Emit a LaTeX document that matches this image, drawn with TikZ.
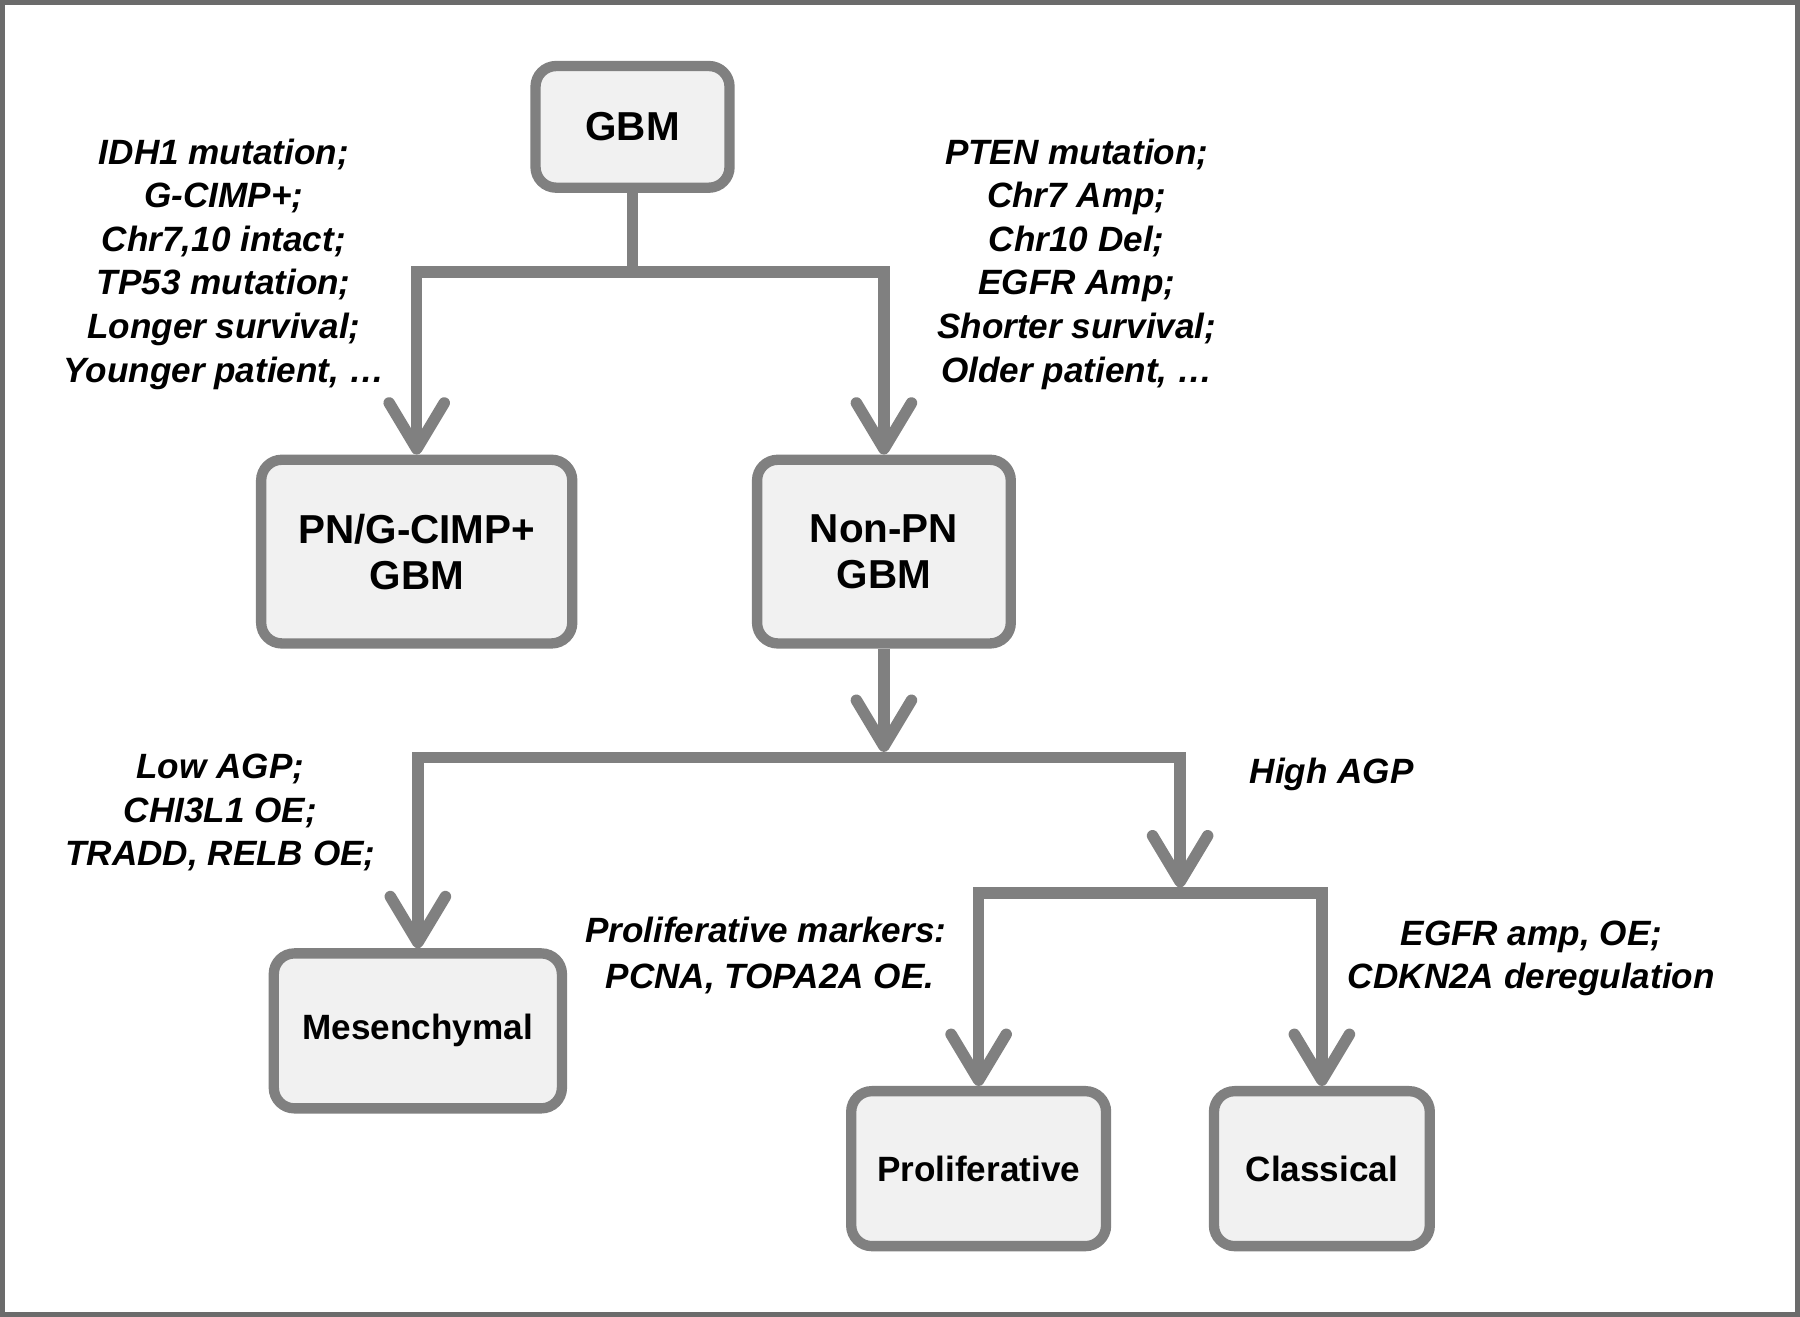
\documentclass[tikz,border=0pt]{standalone}
\usepackage{fontspec}
\setmainfont{Liberation Sans}
\usetikzlibrary{arrows.meta}
\definecolor{lc}{HTML}{808080}
\definecolor{bf}{HTML}{F1F1F1}
\definecolor{fr}{HTML}{6B6B6B}
\begin{document}
\begin{tikzpicture}[x=0.5pt,y=-0.5pt,
 box/.style={draw=lc, fill=bf, line width=4.5pt, rounded corners=9pt, inner sep=0pt, align=center, font=\bfseries\fontsize{17.6}{20}\selectfont},
 sbox/.style={box, font=\bfseries\fontsize{15.3}{18}\selectfont},
 conn/.style={draw=lc, line width=5pt, line join=miter},
 arr/.style={conn, -{Straight Barb[length=20pt,width=24pt,round]}},
 lab/.style={align=center, font=\bfseries\itshape\fontsize{15.3}{19}\selectfont, inner sep=0pt}]
\useasboundingbox (0,0) rectangle (1568,1147);
\draw[fr, line width=2pt] (2,2) rectangle (1566,1145);

\node[box, minimum width=84.5pt, minimum height=53pt] (gbm) at (551,110.5) {GBM};
\node[box, minimum width=135.5pt, minimum height=80pt] (pn) at (363,480.5) {PN/G-CIMP+\\GBM};
\node[box, minimum width=110.5pt, minimum height=80pt] (npn) at (770,480.5) {Non-PN\\GBM};
\node[sbox, minimum width=125.5pt, minimum height=67.5pt] (mes) at (364,898) {Mesenchymal};
\node[sbox, minimum width=111pt, minimum height=67.5pt] (pro) at (852.5,1018) {Proliferative};
\node[sbox, minimum width=94pt, minimum height=67.5pt] (cla) at (1151.5,1018) {Classical};

\coordinate (j1) at (551,237);
\coordinate (j2) at (770,660);
\coordinate (j3) at (1028,778);

\draw[conn] (gbm.south) -- (j1);
\draw[arr] (j1) -| (pn.north);
\draw[arr] (j1) -| (npn.north);
\draw[arr] (npn.south) -- ([yshift=2.5pt]j2);
\draw[arr] (j2) -| (mes.north);
\draw[arr] (j2) -| ([yshift=2.5pt]j3);
\draw[arr] (j3) -| (pro.north);
\draw[arr] (j3) -| (cla.north);

\node[lab] (tl) at (195,230) {IDH1 mutation;\\G-CIMP+;\\Chr7,10 intact;\\TP53 mutation;\\Longer survival;\\Younger patient, …};
\node[lab] (tr) at (938,230) {PTEN mutation;\\Chr7 Amp;\\Chr10 Del;\\EGFR Amp;\\Shorter survival;\\Older patient, …};
\node[lab] (ll) at (192,708) {Low AGP;\\CHI3L1 OE;\\TRADD, RELB OE;};
\node[lab] (hi) at (1160,675) {High AGP};
\node[lab, align=left, font=\bfseries\itshape\fontsize{15.3}{20}\selectfont] (pm) at (667,832) {Proliferative markers:\\\hspace*{9pt}PCNA, TOPA2A OE.};
\node[lab] (eg) at (1334,835) {EGFR amp, OE;\\CDKN2A deregulation};
\end{tikzpicture}
\end{document}
